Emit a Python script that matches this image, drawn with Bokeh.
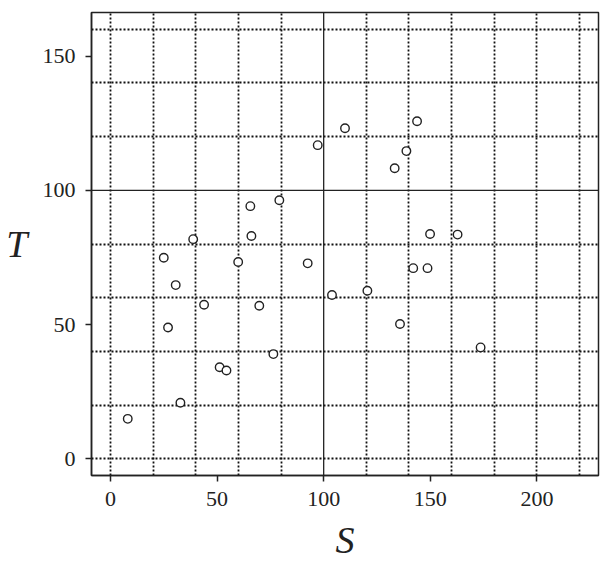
from bokeh.plotting import figure
from bokeh.models import Range1d, FixedTicker, Span
from bokeh.embed import file_html
from bokeh.resources import INLINE

s_vals = [8.1, 25.0, 30.6, 27.0, 32.8, 38.8, 43.9, 51.2, 54.4, 59.9, 65.6, 66.1, 69.8, 76.4, 79.2,
          92.5, 97.2, 103.9, 110.0, 120.5, 133.3, 135.8, 138.8, 142.0, 143.8, 148.7, 149.9, 162.8, 173.6]
t_vals = [14.9, 74.9, 64.7, 48.9, 20.9, 81.8, 57.4, 34.1, 32.9, 73.3, 94.1, 83.0, 57.0, 39.0, 96.3,
          72.8, 116.8, 61.0, 123.1, 62.6, 108.2, 50.2, 114.6, 71.0, 125.7, 71.0, 83.7, 83.5, 41.5]
x_ticks = [0, 50, 100, 150, 200]
y_ticks = [0, 50, 100, 150]
x_grid = [0, 20, 40, 60, 80, 120, 140, 160, 180, 200, 220]
y_grid = [0, 20, 40, 60, 80, 120, 140, 160]

INK = "#222222"
FONT = "Liberation Serif"

p = figure(width=602, height=563, output_backend="svg", toolbar_location=None,
           x_range=Range1d(-8.9, 228.9), y_range=Range1d(-6.2, 166.2),
           min_border_left=91, min_border_top=12, min_border_right=4, min_border_bottom=85)

p.outline_line_color = INK
p.outline_line_width = 1.5
p.background_fill_color = "white"
p.border_fill_color = "white"

for ax, ticks in ((p.xaxis, x_ticks), (p.yaxis, y_ticks)):
    ax.ticker = FixedTicker(ticks=ticks)
    ax.axis_line_color = INK
    ax.axis_line_width = 1.5
    ax.major_tick_out = 6
    ax.major_tick_in = 0
    ax.major_tick_line_color = INK
    ax.major_tick_line_width = 1.5
    ax.minor_tick_out = 0
    ax.minor_tick_in = 0
    ax.major_label_text_font = FONT
    ax.major_label_text_font_size = "22px"
    ax.major_label_text_color = INK
    ax.major_label_standoff = 10
    ax.axis_label_text_font = FONT
    ax.axis_label_text_font_style = "italic"
    ax.axis_label_text_font_size = "38px"
    ax.axis_label_text_color = INK

p.xaxis.axis_label = "S"
p.yaxis.axis_label = "T"
p.yaxis.axis_label_orientation = "horizontal"
p.xaxis.axis_label_standoff = 10
p.yaxis.axis_label_standoff = 12

p.xgrid.ticker = FixedTicker(ticks=x_grid)
p.ygrid.ticker = FixedTicker(ticks=y_grid)
for g in (p.xgrid, p.ygrid):
    g.grid_line_color = "#111111"
    g.grid_line_width = 1.8
    g.grid_line_dash = "2 2"

p.add_layout(Span(location=100, dimension="height", line_color=INK, line_width=1.3))
p.add_layout(Span(location=100, dimension="width", line_color=INK, line_width=1.3))

p.scatter(s_vals, t_vals, size=8.5, fill_color="white", line_color=INK, line_width=1.4)

open("out.html", "w").write(file_html(p, INLINE))
